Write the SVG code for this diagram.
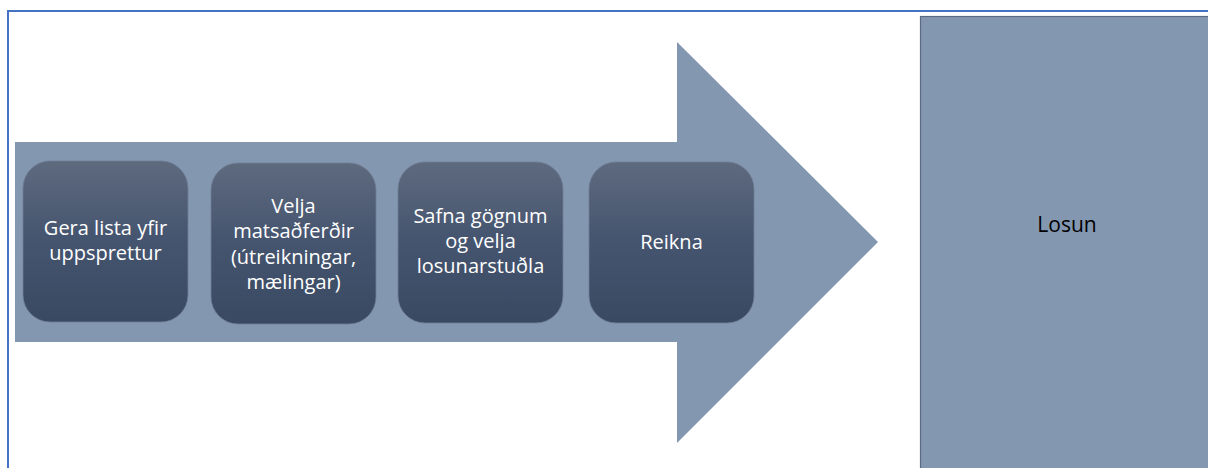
<svg xmlns="http://www.w3.org/2000/svg" width="1208" height="468" viewBox="0 0 1208 468">
  <defs>
    <linearGradient id="boxGrad" x1="0" y1="0" x2="0" y2="1">
      <stop offset="0" stop-color="#5E6A7E"/>
      <stop offset="0.45" stop-color="#475670"/>
      <stop offset="1" stop-color="#3A4962"/>
    </linearGradient>
    <style>
      .frame { fill: none; stroke: #4472C4; stroke-width: 2; }
      .arrow { fill: #8497B0; }
      .box { fill: url(#boxGrad); stroke: #6F7E94; stroke-width: 0.8; }
      .label { font-family: "Open Sans", "Liberation Sans", sans-serif; font-size: 20px; fill: #FFFFFF; text-anchor: middle; }
      .out { fill: #8497B0; stroke: #5A6A80; stroke-width: 1.2; }
      .outlabel { font-family: "Open Sans", "Liberation Sans", sans-serif; font-size: 21px; fill: #000000; text-anchor: middle; }
    </style>
  </defs>
  <rect width="1208" height="468" fill="#FFFFFF"/>
  <rect class="frame" x="8" y="11" width="1210" height="470"/>

  <g id="connectors">
    <polygon class="arrow" points="15,142 677,142 677,42 878,242 677,443 677,342 15,342"/>
  </g>

  <g id="node1">
    <rect class="box" x="23" y="161" width="165" height="161" rx="27" ry="27"/>
    <text class="label" x="105.5" y="235">Gera lista yfir</text>
    <text class="label" x="105.5" y="260">uppsprettur</text>
  </g>

  <g id="node2">
    <rect class="box" x="211" y="163" width="165" height="161" rx="27" ry="27"/>
    <text class="label" x="293.5" y="213">Velja</text>
    <text class="label" x="293.5" y="238">matsaðferðir</text>
    <text class="label" x="293.5" y="263.5">(útreikningar,</text>
    <text class="label" x="293.5" y="289">mælingar)</text>
  </g>

  <g id="node3">
    <rect class="box" x="398" y="162" width="165" height="161" rx="27" ry="27"/>
    <text class="label" x="480.5" y="223">Safna gögnum</text>
    <text class="label" x="480.5" y="248">og velja</text>
    <text class="label" x="480.5" y="273">losunarstuðla</text>
  </g>

  <g id="node4">
    <rect class="box" x="589" y="162" width="165" height="161" rx="27" ry="27"/>
    <text class="label" x="671.5" y="249">Reikna</text>
  </g>

  <g id="node5">
    <rect class="out" x="920.5" y="16.5" width="300" height="470"/>
    <text class="outlabel" x="1067" y="232">Losun</text>
  </g>
</svg>
